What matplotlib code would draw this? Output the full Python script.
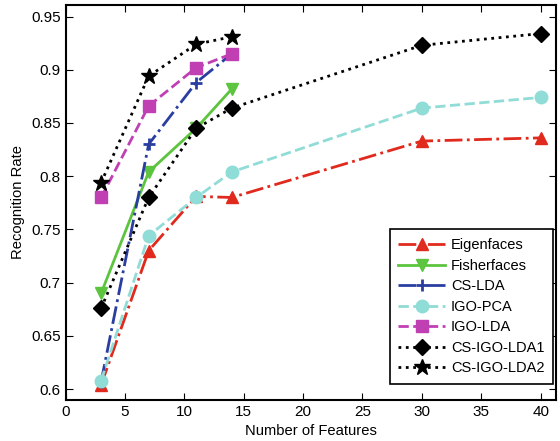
import matplotlib
matplotlib.use("Agg")
import matplotlib.pyplot as plt

plt.rcParams['font.family'] = ['Liberation Sans', 'DejaVu Sans']

# data
feat_long = [3, 7, 11, 14, 30, 40]
feat_short = [3, 7, 11, 14]
eigenfaces = [0.604, 0.730, 0.781, 0.780, 0.833, 0.836]
fisherfaces = [0.690, 0.804, 0.845, 0.882]
cs_lda = [0.607, 0.830, 0.888, 0.915]
igo_pca = [0.608, 0.744, 0.780, 0.804, 0.864, 0.874]
igo_lda = [0.780, 0.866, 0.902, 0.915]
cs_igo_lda1 = [0.676, 0.780, 0.845, 0.864, 0.923, 0.934]
cs_igo_lda2 = [0.794, 0.894, 0.924, 0.931]

xticks = [0, 5, 10, 15, 20, 25, 30, 35, 40]
yticks = [0.6, 0.65, 0.7, 0.75, 0.8, 0.85, 0.9, 0.95]
ytick_labels = ['0.6', '0.65', '0.7', '0.75', '0.8', '0.85', '0.9', '0.95']

fig = plt.figure(figsize=(5.6, 4.41), dpi=100)
ax = fig.add_axes([0.117, 0.093, 0.876, 0.896])

ax.plot(feat_long, eigenfaces, '-.', color='#e02a1e', lw=2, marker='^', ms=9,
        label='Eigenfaces')
ax.plot(feat_short, fisherfaces, '-', color='#5cc43e', lw=2, marker='v', ms=9,
        label='Fisherfaces')
ax.plot(feat_short, cs_lda, '-.', color='#2a3ea0', lw=2, marker='+', ms=9,
        mew=2, label='CS-LDA')
ax.plot(feat_long, igo_pca, '--', color='#90dcd6', lw=2, marker='o', ms=9,
        label='IGO-PCA')
ax.plot(feat_short, igo_lda, '--', color='#c040b4', lw=2, marker='s', ms=9,
        label='IGO-LDA')
ax.plot(feat_long, cs_igo_lda1, ':', color='black', lw=2, marker='D', ms=8,
        label='CS-IGO-LDA1')
ax.plot(feat_short, cs_igo_lda2, ':', color='black', lw=2, marker='*', ms=12,
        label='CS-IGO-LDA2')

ax.set_xlim(0, 41.3)
ax.set_ylim(0.5897, 0.961)
ax.set_xticks(xticks)
ax.set_yticks(yticks)
ax.set_yticklabels(ytick_labels)
ax.tick_params(direction='in', top=True, right=True, labelsize=11, length=5)
for s in ax.spines.values():
    s.set_linewidth(1.5)

ax.set_xlabel('Number of Features', fontsize=10.6)
ax.set_ylabel('Recognition Rate', fontsize=10.6)

leg = ax.legend(loc='lower right', bbox_to_anchor=(0.994, 0.04),
                fontsize=10.5, handlelength=3.2, handletextpad=0.4,
                fancybox=False, edgecolor='black', framealpha=1,
                borderaxespad=0, borderpad=0.6, labelspacing=0.45)
leg.get_frame().set_linewidth(1.2)

fig.savefig('out.png', dpi=100)
